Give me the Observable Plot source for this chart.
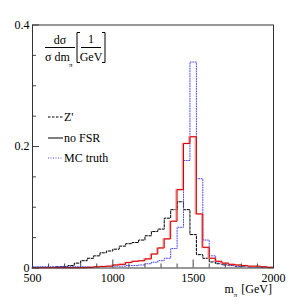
<!DOCTYPE html>
<html><head><meta charset="utf-8">
<script src="https://cdn.jsdelivr.net/npm/d3@7"></script>
<script src="https://cdn.jsdelivr.net/npm/@observablehq/plot@0.6"></script>
<style>
body{margin:0;background:#fff;}
#c{position:relative;width:304px;height:305px;}
#c svg, #c svg text{font-family:'Liberation Serif','Times New Roman',serif !important;}
</style>
</head><body><div id="c"></div>
<script>
const binEdges = [500,520,560,600,640,680,720,760,800,840,880,920,960,1000,1040,1080,1120,1160,1200,1240,1280,1320,1360,1400,1440,1480,1520,1560,1600,1640,1680,1720,1760,1800,1840,1880,1920,1960,2000];
const zprime = [0.001,0.001,0.001,0.001,0.002,0.0025,0.004,0.008,0.012,0.016,0.020,0.025,0.028,0.031,0.036,0.040,0.042,0.046,0.053,0.060,0.064,0.082,0.096,0.109,0.096,0.055,0.022,0.016,0.010,0.007,0.005,0.004,0.003,0.003,0.002,0.002,0.001,0.001];
const noFSR = [0.0005,0.0005,0.0005,0.0005,0.0005,0.0005,0.0005,0.0005,0.0005,0.001,0.002,0.0025,0.003,0.005,0.006,0.009,0.011,0.012,0.015,0.023,0.033,0.048,0.077,0.129,0.205,0.216,0.089,0.034,0.016,0.011,0.008,0.006,0.005,0.004,0.003,0.003,0.002,0.001];
const mcTruth = [0.002,0.002,0.002,0.002,0.002,0.002,0.002,0.002,0.002,0.002,0.0025,0.0025,0.003,0.003,0.003,0.004,0.004,0.005,0.007,0.0095,0.012,0.016,0.032,0.067,0.177,0.339,0.147,0.046,0.020,0.010,0.006,0.004,0.003,0.003,0.002,0.002,0.001,0.001];
const xTickLabels = [500,1000,1500,2000];
const xMinorTicks = [600,700,800,900,1100,1200,1300,1400,1600,1700,1800,1900];
const yTickLabels = [0,0.2,0.4];
const yMinorTicks = [0.05,0.1,0.15,0.25,0.3,0.35];
const legendLabels = ["Z'","no FSR","MC truth"];

function steps(vals){ const pts = vals.map((v,i)=>({x:binEdges[i], y:v})); pts.push({x:binEdges[binEdges.length-1], y:vals[vals.length-1]}); return pts; }

const W=304,H=305,mT=24.5,mB=37.5,mL=32,mR=31;
const pH=H-mT-mB, pW=W-mL-mR;
const serif="'Liberation Serif','Times New Roman',serif";

const svg = Plot.plot({
  width:W, height:H, marginTop:mT, marginBottom:mB, marginLeft:mL, marginRight:mR,
  style:{fontFamily:serif, fontSize:"12px", background:"#fff", color:"#000"},
  x:{domain:[500,2000]},
  y:{domain:[0,0.4]},
  marks:[
    Plot.line(steps(zprime),{x:"x",y:"y",curve:"step-after",stroke:"#000",strokeWidth:1,strokeDasharray:"2.5,1.5"}),
    Plot.line(steps(mcTruth),{x:"x",y:"y",curve:"step-after",stroke:"#4848ff",strokeWidth:1,strokeDasharray:"1,1.5"}),
    Plot.line(steps(noFSR),{x:"x",y:"y",curve:"step-after",stroke:"#f0a4a4",strokeWidth:1.6,dx:-1}),
    Plot.line(steps(noFSR),{x:"x",y:"y",curve:"step-after",stroke:"#d80000",strokeWidth:1}),
    Plot.ruleX(xTickLabels,{x:d=>d,insetTop:pH-8,stroke:"#444"}),
    Plot.ruleX(xMinorTicks,{x:d=>d,insetTop:pH-4,stroke:"#444"}),
    Plot.ruleY(yTickLabels,{y:d=>d,insetRight:pW-7,stroke:"#444"}),
    Plot.ruleY(yMinorTicks,{y:d=>d,insetRight:pW-4,stroke:"#444"}),
    Plot.axisX({ticks:xTickLabels,tickSize:0,tickPadding:5,tickFormat:d=>String(d),fontSize:12,label:null}),
    Plot.axisY({ticks:yTickLabels,tickSize:0,tickPadding:3,tickFormat:d3.format("~g"),fontSize:12,label:null}),
    Plot.frame({stroke:"#333",strokeWidth:1})
  ]
});
document.getElementById("c").appendChild(svg);

const s = d3.select(svg);
const g = s.append("g").attr("font-family",serif).attr("fill","#000").attr("text-anchor","start");
// y-axis label fraction
g.append("text").attr("x",60).attr("y",44).attr("text-anchor","middle").attr("font-size",12).text("dσ");
g.append("line").attr("x1",45).attr("x2",75).attr("y1",47.5).attr("y2",47.5).attr("stroke","#000");
g.append("text").attr("x",45).attr("y",61).attr("text-anchor","start").attr("font-size",12).text("σ dm");
g.append("text").attr("x",69).attr("y",67).attr("text-anchor","start").attr("font-size",7).text("π");
g.append("path").attr("d","M80,32.5H77V62.5H80").attr("fill","none").attr("stroke","#000");
g.append("path").attr("d","M102,32.5H105V62.5H102").attr("fill","none").attr("stroke","#000");
g.append("text").attr("x",91).attr("y",43).attr("text-anchor","middle").attr("font-size",12).text("1");
g.append("line").attr("x1",81).attr("x2",101).attr("y1",47.5).attr("y2",47.5).attr("stroke","#000");
g.append("text").attr("x",91).attr("y",61).attr("text-anchor","middle").attr("font-size",12).text("GeV");
// x-axis label
const xl = g.append("text").attr("x",272).attr("y",292.5).attr("text-anchor","end").attr("font-size",12);
xl.append("tspan").text("m");
xl.append("tspan").attr("dy",4).attr("font-size",7).text("π");
xl.append("tspan").attr("dy",-4).attr("dx",4).text("[GeV]");
// legend
const legStyles = [{stroke:"#000",dash:"2.5,1.5"},{stroke:"#000",dash:null},{stroke:"#4848ff",dash:"1,1.5"}];
const legY = [117,138,158];
legendLabels.forEach((t,i)=>{
  const ln = g.append("line").attr("x1",48).attr("x2",63).attr("y1",legY[i]).attr("y2",legY[i]).attr("stroke",legStyles[i].stroke).attr("stroke-width",1);
  if (legStyles[i].dash) ln.attr("stroke-dasharray",legStyles[i].dash);
  g.append("text").attr("x",64).attr("y",legY[i]+4).attr("text-anchor","start").attr("font-size",12).text(t);
});
</script></body></html>
